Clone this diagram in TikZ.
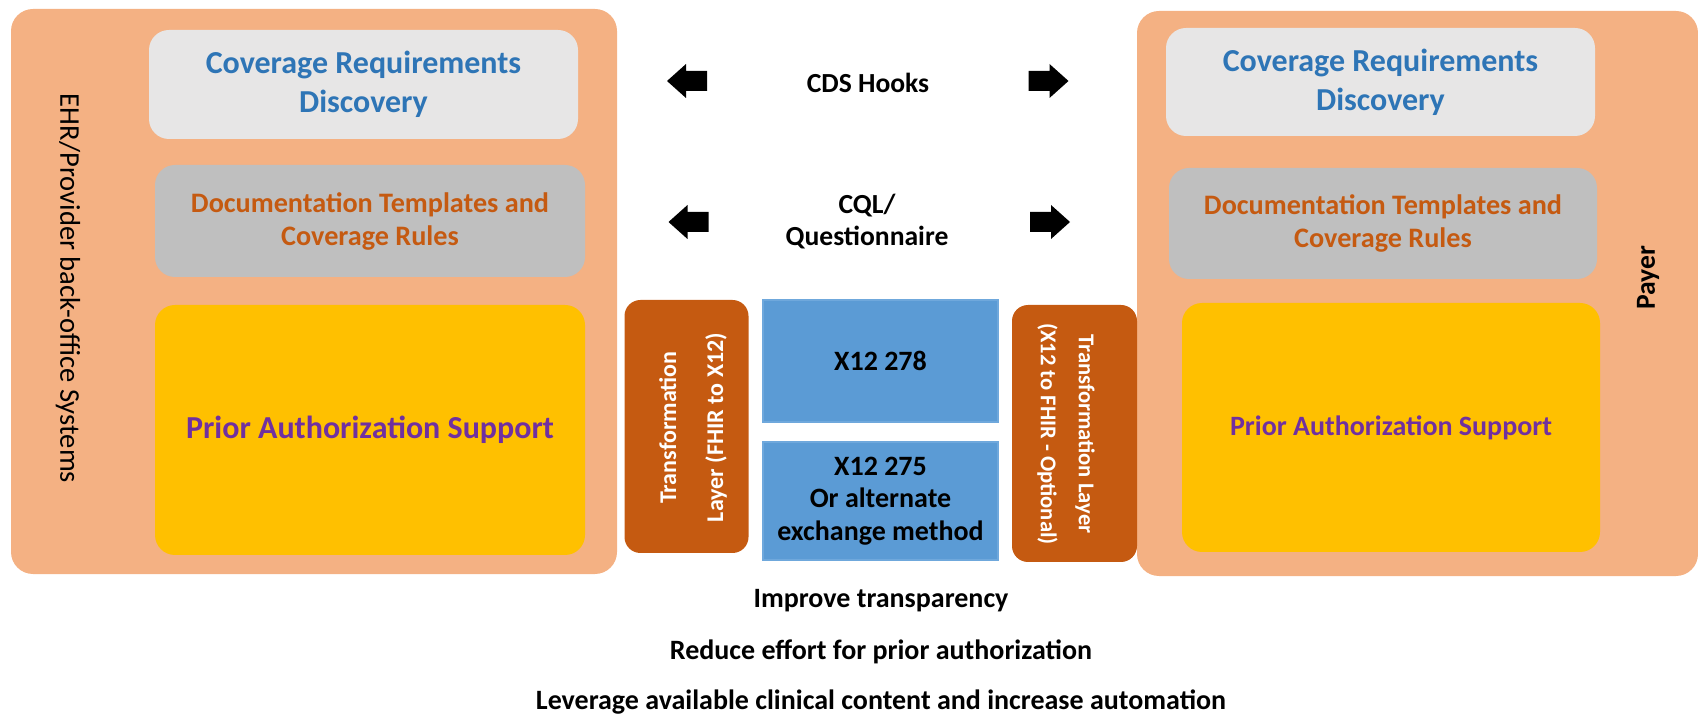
\documentclass[tikz,border=0pt]{standalone}
\usepackage{fontspec}
\setmainfont{Carlito}
\definecolor{peach}{HTML}{F4B183}
\definecolor{lgray}{HTML}{E7E6E6}
\definecolor{mgray}{HTML}{BFBFBF}
\definecolor{gold}{HTML}{FFC000}
\definecolor{crdblue}{HTML}{2E75B6}
\definecolor{rust}{HTML}{C55A11}
\definecolor{purp}{HTML}{7030A0}
\definecolor{xblue}{HTML}{5B9BD5}
\definecolor{xedge}{HTML}{6FA8DC}
\begin{document}
\begin{tikzpicture}[x=0.5pt,y=-0.5pt,
  every node/.style={inner sep=0pt, outer sep=0pt, align=center},
  outerbox/.style={fill=peach, rounded corners=11pt},
  crdbox/.style={fill=lgray, rounded corners=10pt, text=crdblue,
    font=\fontsize{16}{19.5}\selectfont\bfseries},
  dtbox/.style={fill=mgray, rounded corners=10pt, text=rust,
    font=\fontsize{14.1}{16.5}\selectfont\bfseries},
  pasbox/.style={fill=gold, rounded corners=10pt, text=purp},
  trbox/.style={fill=rust, rounded corners=8pt},
  xbox/.style={fill=xblue, draw=xedge, line width=0.6pt,
    font=\fontsize{14}{16.3}\selectfont\bfseries},
  midtext/.style={font=\fontsize{13.8}{16}\selectfont\bfseries},
  goal/.style={font=\fontsize{14}{16}\selectfont\bfseries},
  blockarrow/.pic={\fill[black] (-20,0) -- (-1,-17) -- (-1,-10) -- (20,-10)
     -- (20,10) -- (-1,10) -- (-1,17) -- cycle;}
]
\useasboundingbox (0,0) rectangle (1698,716);

% provider side
\node[outerbox, minimum width=303pt, minimum height=282.5pt] (ehr) at (314,291.5) {};
\node[rotate=-90, font=\fontsize{14.3}{16}\selectfont] (ehrlabel) at (68,288.5) {EHR/Provider back-office Systems};
\node[crdbox, minimum width=214.5pt, minimum height=54.5pt] (crdL) at (363.5,84.5)
  {Coverage Requirements\\Discovery};
\node[dtbox, minimum width=215pt, minimum height=56pt] (dtL) at (370,221)
  {Documentation Templates and\\Coverage Rules};
\node[pasbox, minimum width=215pt, minimum height=125pt,
  font=\fontsize{16}{18}\selectfont\bfseries] (pasL) at (370,430)
  {Prior Authorization Support};

% payer side
\node[outerbox, minimum width=280.5pt, minimum height=282.5pt] (payer) at (1417.5,293.5) {};
\node[rotate=90, font=\fontsize{13.8}{15}\selectfont\bfseries] (payerlabel) at (1648,278) {Payer};
\node[crdbox, minimum width=214.5pt, minimum height=54pt] (crdR) at (1380.5,82)
  {Coverage Requirements\\Discovery};
\node[dtbox, minimum width=214pt, minimum height=55.5pt] (dtR) at (1383,223.5)
  {Documentation Templates and\\Coverage Rules};
\node[pasbox, minimum width=209pt, minimum height=124.5pt,
  font=\fontsize{14}{16}\selectfont\bfseries] (pasR) at (1391,427.5)
  {Prior Authorization Support};

% exchange in the middle
\node[midtext] (cds) at (868,83) {CDS Hooks};
\node[midtext] (cql) at (867,222) {CQL/\\Questionnaire};
\pic at (687,81) {blockarrow};
\pic[xscale=-1] at (1048.5,81) {blockarrow};
\pic at (688.5,222) {blockarrow};
\pic[xscale=-1] at (1050,222) {blockarrow};

\node[trbox, minimum width=62pt, minimum height=126.5pt] (trL) at (686.5,426.5) {};
\node[rotate=90, text=white, font=\fontsize{12}{23.5}\selectfont\bfseries] (trLt) at (693,427.5)
  {Transformation\\Layer (FHIR to X12)};
\node[xbox, minimum width=117.5pt, minimum height=61pt] (x278) at (880.5,361) {X12 278};
\node[xbox, minimum width=117.5pt, minimum height=59pt] (x275) at (880.5,501)
  {X12 275\\Or alternate\\exchange method};
\node[trbox, minimum width=62.5pt, minimum height=128.5pt] (trR) at (1074.5,433.5) {};
\node[rotate=-90, text=white, font=\fontsize{11.3}{19}\selectfont\bfseries] (trRt) at (1066,434)
  {Transformation Layer\\(X12 to FHIR - Optional)};

% goals
\node[goal] (g1) at (881,601) {Improve transparency};
\node[goal] (g2) at (881,652) {Reduce effort for prior authorization};
\node[goal] (g3) at (881,702) {Leverage available clinical content and increase automation};
\end{tikzpicture}
\end{document}
